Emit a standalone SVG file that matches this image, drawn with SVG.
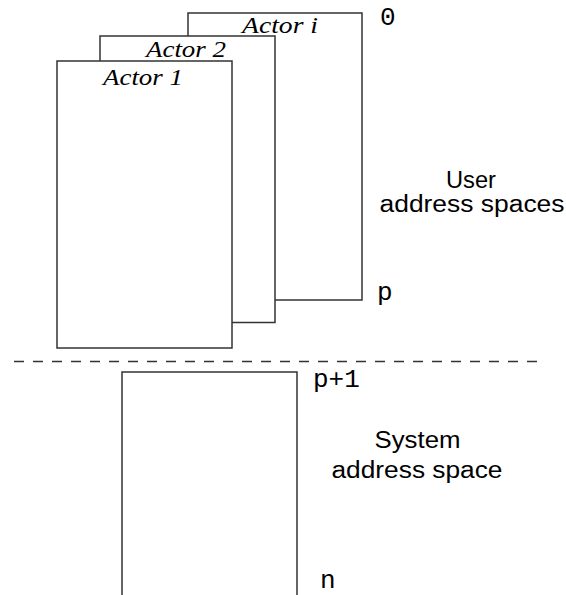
<svg xmlns="http://www.w3.org/2000/svg" width="566" height="595" viewBox="0 0 566 595">
<style>
.box{fill:#fff;stroke:#333;stroke-width:1.5}
.actor{font-family:"Liberation Serif",serif;font-style:italic;font-size:23px;fill:#000}
.mono{font-family:"Liberation Mono",monospace;font-size:26px;fill:#000}
.sans{font-family:"Liberation Sans",Arial,sans-serif;font-size:23px;fill:#000;text-anchor:middle}
</style>
<rect width="566" height="595" fill="#fff"/>
<g id="actor-i">
<rect class="box" x="188" y="13" width="174" height="287"/>
<text class="actor" x="242" y="33" textLength="76" lengthAdjust="spacingAndGlyphs">Actor i</text>
</g>
<g id="actor-2">
<rect class="box" x="100" y="36" width="175" height="286.5"/>
<text class="actor" x="146" y="57" textLength="80" lengthAdjust="spacingAndGlyphs">Actor 2</text>
</g>
<g id="actor-1">
<rect class="box" x="57" y="61" width="175" height="287"/>
<text class="actor" x="103" y="85" textLength="80" lengthAdjust="spacingAndGlyphs">Actor 1</text>
</g>
<g id="system-space">
<path class="box" d="M122 600 V372 H297 V600" fill="none"/>
</g>
<g id="connectors">
<line x1="14" y1="361.5" x2="538" y2="361.5" stroke="#333" stroke-width="1.3" stroke-dasharray="10 9"/>
</g>
<g id="labels">
<text class="mono" x="380" y="25">0</text>
<text class="mono" x="377" y="300">p</text>
<text class="mono" x="313" y="387">p+1</text>
<text class="mono" x="320" y="588">n</text>
<text class="sans" x="471" y="188" textLength="50" lengthAdjust="spacingAndGlyphs">User</text>
<text class="sans" x="472" y="212" textLength="185" lengthAdjust="spacingAndGlyphs">address spaces</text>
<text class="sans" x="417.5" y="448" textLength="86" lengthAdjust="spacingAndGlyphs">System</text>
<text class="sans" x="417" y="478" textLength="171" lengthAdjust="spacingAndGlyphs">address space</text>
</g>
</svg>
